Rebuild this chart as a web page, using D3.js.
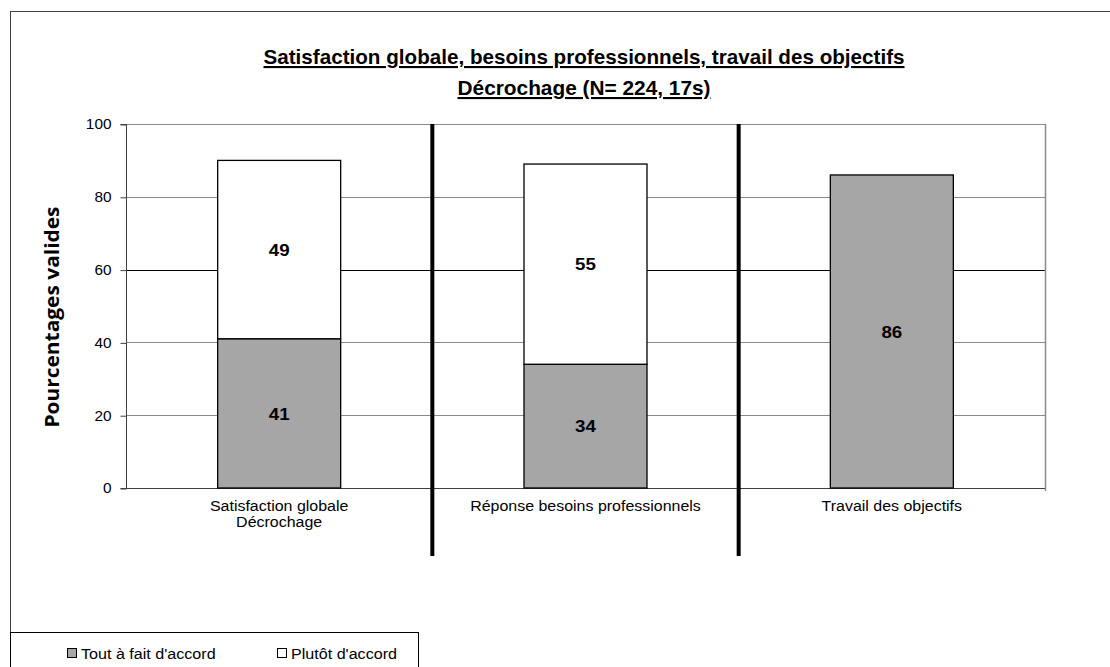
<!DOCTYPE html>
<html>
<head>
<meta charset="utf-8">
<script src="https://cdn.jsdelivr.net/npm/d3@7"></script>
<style>
  html, body { margin: 0; padding: 0; background: #fff; }
  svg { display: block; }
</style>
</head>
<body>
<svg id="chart" width="1110" height="667"></svg>
<script>
// Categories (multi-line labels) and stacked series
const categories = [
  ["Satisfaction globale", "Décrochage"],
  ["Réponse besoins professionnels"],
  ["Travail des objectifs"]
];
const categoryKeys = ["sat", "rep", "trav"];
const toutAFait = [41, 34, 86];
const plutot = [49, 55, 0];
const seriesNames = ["Tout à fait d'accord", "Plutôt d'accord"];
const seriesColors = ["#a6a6a6", "#ffffff"];
const yTicks = [0, 20, 40, 60, 80, 100];
const titleLines = [
  "Satisfaction globale, besoins professionnels, travail des objectifs",
  "Décrochage (N= 224, 17s)"
];
const yTitle = "Pourcentages valides";

const SANS = "Liberation Sans, Arial, sans-serif";

// widen text horizontally by a factor (the chart's text runs slightly wide)
function widen(sel, factor) {
  sel.each(function () {
    const w = this.getComputedTextLength();
    d3.select(this)
      .attr("textLength", w * factor)
      .attr("lengthAdjust", "spacingAndGlyphs");
  });
  return sel;
}

const svg = d3.select("#chart");

// outer chart frame (runs off the right and bottom edges)
svg.append("rect")
  .attr("x", 10.5).attr("y", 11.5)
  .attr("width", 1300).attr("height", 1000)
  .attr("fill", "none").attr("stroke", "#404040").attr("stroke-width", 1);

const plot = { left: 126, right: 1045, top: 124, bottom: 488 };

const x = d3.scaleBand()
  .domain(categoryKeys)
  .range([plot.left, plot.right])
  .paddingInner(0).paddingOuter(0);

const y = d3.scaleLinear().domain([0, 100]).range([plot.bottom, plot.top]);

// gridlines
svg.append("g").selectAll("line")
  .data(yTicks.filter(d => d > 0))
  .join("line")
  .attr("x1", plot.left).attr("x2", plot.right)
  .attr("y1", d => Math.round(y(d)) + 0.5).attr("y2", d => Math.round(y(d)) + 0.5)
  .attr("stroke", d => d === 60 ? "#000" : "#8a8a8a")
  .attr("stroke-width", 1);

// plot area right border
svg.append("line")
  .attr("x1", plot.right + 0.5).attr("x2", plot.right + 0.5)
  .attr("y1", plot.top).attr("y2", plot.bottom + 3)
  .attr("stroke", "#8a8a8a").attr("stroke-width", 1.5);

// y axis
const yAxis = d3.axisLeft(y).tickValues(yTicks).tickSize(6).tickPadding(9);
const gy = svg.append("g")
  .attr("transform", `translate(${plot.left + 0.5},0.5)`)
  .call(yAxis);
gy.select(".domain").attr("stroke", "#404040").attr("d", `M-6,${plot.top}H0V${plot.bottom}H-6`);
gy.selectAll(".tick line").attr("stroke", "#404040");
gy.selectAll(".tick text")
  .attr("font-family", SANS)
  .attr("font-size", 14).attr("fill", "#000")
  .call(widen, 1.1);

// x axis baseline
svg.append("line")
  .attr("x1", plot.left).attr("x2", plot.right)
  .attr("y1", plot.bottom + 0.5).attr("y2", plot.bottom + 0.5)
  .attr("stroke", "#404040").attr("stroke-width", 1);

// stacked bars
const rows = categoryKeys.map((k, i) => ({ key: k, tout: toutAFait[i], plutot: plutot[i] }));
const stack = d3.stack().keys(["tout", "plutot"]);
const stacked = stack(rows);
const barW = 123;

const gBars = svg.append("g");
stacked.forEach((layer, li) => {
  layer.forEach(seg => {
    const v = seg[1] - seg[0];
    if (v <= 0) return;
    const cx = x(seg.data.key) + x.bandwidth() / 2;
    gBars.append("rect")
      .attr("x", cx - barW / 2)
      .attr("y", y(seg[1]))
      .attr("width", barW)
      .attr("height", y(seg[0]) - y(seg[1]))
      .attr("fill", seriesColors[li])
      .attr("stroke", "#000").attr("stroke-width", 1.3);
    gBars.append("text")
      .attr("x", cx)
      .attr("y", (y(seg[0]) + y(seg[1])) / 2)
      .attr("dy", "0.36em")
      .attr("text-anchor", "middle")
      .attr("font-family", SANS)
      .attr("font-weight", "bold").attr("font-size", 17)
      .text(d3.format("d")(v))
      .call(widen, 1.1);
  });
});

// thick separators between categories
svg.append("g").selectAll("line")
  .data(categoryKeys.slice(1))
  .join("line")
  .attr("x1", d => x(d)).attr("x2", d => x(d))
  .attr("y1", plot.top).attr("y2", 556)
  .attr("stroke", "#000").attr("stroke-width", 4);

// category labels
const gx = svg.append("g");
categories.forEach((lines, i) => {
  const cx = x(categoryKeys[i]) + x.bandwidth() / 2;
  lines.forEach((ln, j) => {
    gx.append("text")
      .attr("x", cx).attr("y", 511 + j * 16)
      .attr("text-anchor", "middle")
      .attr("font-family", SANS)
      .attr("font-size", 14)
      .text(ln)
      .call(widen, 1.14);
  });
});

// y-axis title
svg.append("text")
  .attr("transform", `translate(59,317) rotate(-90)`)
  .attr("text-anchor", "middle")
  .attr("font-family", "Open Sans, DejaVu Sans, sans-serif")
  .attr("font-weight", "bold").attr("font-size", 19)
  .text(yTitle)
  .call(widen, 1.1);

// title: tall, condensed bold lines
const titleY = [64, 95];
const titleWidth = [641, 253];
titleLines.forEach((t, i) => {
  svg.append("text")
    .attr("x", 584).attr("y", titleY[i])
    .attr("text-anchor", "middle")
    .attr("font-family", SANS)
    .attr("font-weight", "bold").attr("font-size", 21)
    .attr("text-decoration", "underline")
    .attr("textLength", titleWidth[i])
    .attr("lengthAdjust", "spacingAndGlyphs")
    .text(t);
});

// legend box
svg.append("rect")
  .attr("x", 10.5).attr("y", 632.5)
  .attr("width", 408).attr("height", 100)
  .attr("fill", "#fff").attr("stroke", "#000").attr("stroke-width", 1);

const legendX = [67, 277];
const gl = svg.append("g");
seriesNames.forEach((name, i) => {
  gl.append("rect")
    .attr("x", legendX[i] + 0.5).attr("y", 648.5)
    .attr("width", 9).attr("height", 9)
    .attr("fill", seriesColors[i]).attr("stroke", "#000").attr("stroke-width", 1);
  gl.append("text")
    .attr("x", legendX[i] + 14).attr("y", 659)
    .attr("font-family", SANS)
    .attr("font-size", 14)
    .text(name)
    .call(widen, 1.15);
});
</script>
</body>
</html>
